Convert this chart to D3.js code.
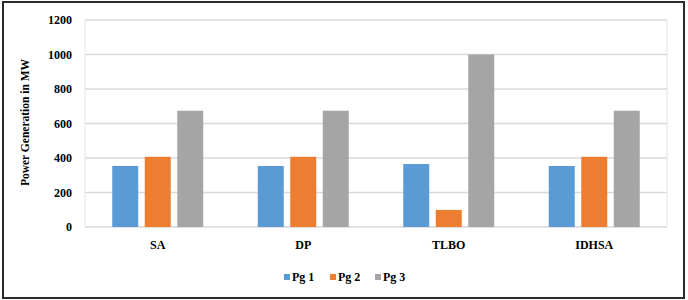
<!DOCTYPE html>
<html>
<head>
<meta charset="utf-8">
<script src="https://cdn.jsdelivr.net/npm/d3@7"></script>
<style>
  body { margin: 0; background: #fff; }
  text { font-family: "Liberation Serif", "Times New Roman", serif; font-weight: bold; }
</style>
</head>
<body>
<div id="chart"></div>
<script>
var categories = ["SA", "DP", "TLBO", "IDHSA"];
var seriesNames = ["Pg 1", "Pg 2", "Pg 3"];
var pg1 = [354, 354, 365, 354];
var pg2 = [407, 407, 99, 407];
var pg3 = [674, 674, 1000, 674];
var yTicks = [0, 200, 400, 600, 800, 1000, 1200];
var colors = ["#5b9bd5", "#ed7d31", "#a5a5a5"];

var width = 688, height = 300;
var margin = {top: 20, right: 21, bottom: 73, left: 85};
var groupWidth = 91;

var svg = d3.select("#chart").append("svg")
  .attr("width", width)
  .attr("height", height);

// outer frame
svg.append("rect")
  .attr("x", 3).attr("y", 2)
  .attr("width", 681).attr("height", 296)
  .attr("fill", "none")
  .attr("stroke", "#2b2b2b")
  .attr("stroke-width", 2);

var x0 = d3.scaleBand()
  .domain(categories)
  .range([margin.left, width - margin.right]);

var x1 = d3.scaleBand()
  .domain(seriesNames)
  .range([0, groupWidth])
  .paddingInner(0.2);

var y = d3.scaleLinear()
  .domain([0, 1200])
  .range([227, margin.top]);

// gridlines
svg.append("g")
  .selectAll("line")
  .data(yTicks)
  .join("line")
    .attr("x1", margin.left)
    .attr("x2", width - margin.right)
    .attr("y1", d => y(d))
    .attr("y2", d => y(d))
    .attr("stroke", "#d9d9d9")
    .attr("stroke-width", 1.5);

// plot area border on the left/right
svg.append("line")
  .attr("x1", margin.left).attr("x2", margin.left)
  .attr("y1", y(1200)).attr("y2", y(0))
  .attr("stroke", "#e4e4e4");
svg.append("line")
  .attr("x1", width - margin.right).attr("x2", width - margin.right)
  .attr("y1", y(1200)).attr("y2", y(0))
  .attr("stroke", "#e4e4e4");

// y axis labels
svg.append("g")
  .selectAll("text")
  .data(yTicks)
  .join("text")
    .attr("x", 72)
    .attr("y", d => y(d))
    .attr("dy", "0.35em")
    .attr("text-anchor", "end")
    .attr("font-size", 12)
    .text(d => d);

svg.append("text")
  .attr("transform", "translate(29," + (y(600) - 1) + ") rotate(-90)")
  .attr("text-anchor", "middle")
  .attr("font-size", 11.5)
  .text("Power Generation in MW");

// bars
var rows = categories.map(function(c, i) {
  return {cat: c, values: [pg1[i], pg2[i], pg3[i]]};
});

var groups = svg.append("g")
  .selectAll("g")
  .data(rows)
  .join("g")
    .attr("transform", d => "translate(" + (x0(d.cat) + x0.bandwidth() / 2 - groupWidth / 2) + ",0)");

groups.selectAll("rect")
  .data(d => d.values.map((v, j) => ({name: seriesNames[j], value: v, color: colors[j]})))
  .join("rect")
    .attr("x", d => x1(d.name))
    .attr("width", x1.bandwidth())
    .attr("y", d => y(d.value))
    .attr("height", d => y(0) - y(d.value))
    .attr("fill", d => d.color);

// category labels
svg.append("g")
  .selectAll("text")
  .data(categories)
  .join("text")
    .attr("x", d => x0(d) + x0.bandwidth() / 2)
    .attr("y", 249)
    .attr("text-anchor", "middle")
    .attr("font-size", 12)
    .text(d => d);

// legend
var legendX = [284, 330, 375];
var legend = svg.append("g")
  .selectAll("g")
  .data(seriesNames)
  .join("g")
    .attr("transform", (d, i) => "translate(" + legendX[i] + ",277)");

legend.append("rect")
  .attr("x", 0).attr("y", -3)
  .attr("width", 6).attr("height", 6)
  .attr("fill", (d, i) => colors[i]);

legend.append("text")
  .attr("x", 8)
  .attr("dy", "0.35em")
  .attr("font-size", 12)
  .text(d => d);
</script>
</body>
</html>
